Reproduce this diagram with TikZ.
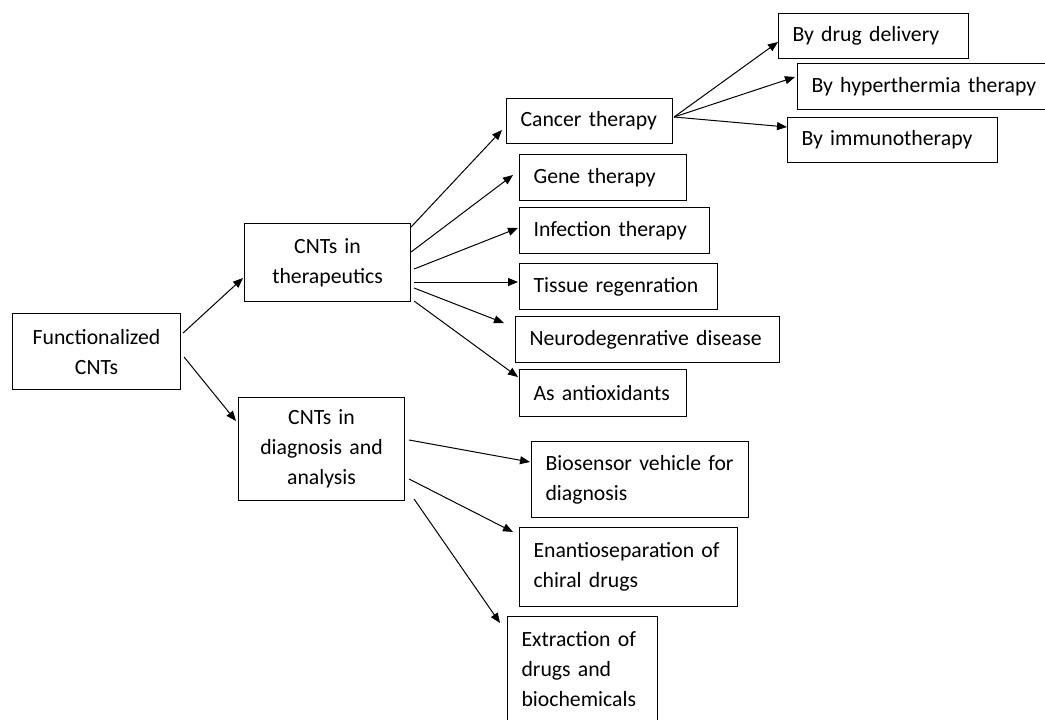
\documentclass[tikz,border=0pt]{standalone}
\usepackage{fontspec}
\setmainfont{Carlito}
\usetikzlibrary{arrows.meta,calc}
\tikzset{
  box/.style={draw=black, line width=0.8pt, inner xsep=10.5pt, inner ysep=1pt,
    font=\fontsize{16.3pt}{22.5pt}\selectfont, text=black},
  conn/.style={draw=black, line width=0.75pt, -{Triangle[length=7.5pt,width=6pt]}}
}
\newcommand\mybox[7]{%
  \pgfmathsetmacro\bw{(#4-#2)*0.75}%
  \pgfmathsetmacro\bh{(#5-#3)*0.75}%
  \pgfmathsetmacro\tw{(#4-#2-28)*0.75}%
  \node[box, anchor=north west, minimum width=\bw pt, minimum height=\bh pt,
        text width=\tw pt, align=#6] (#1) at (#2,#3) {#7};}
\begin{document}
\begin{tikzpicture}[x=0.75pt, y=-0.75pt]
\useasboundingbox (0,0) rectangle (1045,719);
% boxes
\mybox{func}{12}{313}{180}{389}{center}{\mbox{Functionalized}\\CNTs}
\mybox{ther}{244}{223}{410}{301}{center}{\mbox{CNTs in}\\therapeutics}
\mybox{diag}{238}{397}{404}{500}{center}{\mbox{CNTs in}\\\mbox{diagnosis and}\\analysis}
\mybox{cancer}{506}{98}{672}{143}{left}{\mbox{Cancer therapy}}
\mybox{drug}{778}{13}{968}{58}{left}{\mbox{By drug delivery}}
\mybox{hyper}{797}{63}{1050}{109}{left}{\mbox{By hyperthermia therapy}}
\mybox{immuno}{787}{117}{997}{162}{left}{\mbox{By immunotherapy}}
\mybox{gene}{519}{154}{686}{200}{left}{\mbox{Gene therapy}}
\mybox{infect}{519}{207}{709}{253}{left}{\mbox{Infection therapy}}
\mybox{tissue}{519}{263}{717}{309}{left}{\mbox{Tissue regenration}}
\mybox{neuro}{515}{316}{779}{362}{left}{\mbox{Neurodegenrative disease}}
\mybox{anti}{519}{369}{686}{416}{left}{\mbox{As antioxidants}}
\mybox{bio}{531}{441}{748}{517}{left}{\mbox{Biosensor vehicle for}\\diagnosis}
\mybox{enant}{519}{527}{737}{606}{left}{\mbox{Enantioseparation of}\\\mbox{chiral drugs}}
\mybox{extr}{507}{616}{657}{722}{left}{\mbox{Extraction of}\\\mbox{drugs and}\\biochemicals}
% connectors
\draw[conn] ($(func.north east)+(2,20)$) -- ($(ther.north west)+(-1,55)$);
\draw[conn] ($(func.north east)+(3,44)$) -- ($(diag.north west)+(-2,24)$);
\draw[conn] ($(ther.north east)+(0,4)$) -- ($(cancer.north west)+(-4,32)$);
\draw[conn] ($(ther.north east)+(0,29)$) -- ($(gene.north west)+(-6,21)$);
\draw[conn] ($(ther.north east)+(3,46)$) -- ($(infect.north west)+(-1,21)$);
\draw[conn] ($(ther.north east)+(3,59)$) -- ($(tissue.north west)+(-1,19)$);
\draw[conn] ($(ther.north east)+(3,65)$) -- ($(neuro.north west)+(-11,7)$);
\draw[conn] ($(ther.north east)+(3,78)$) -- ($(anti.north west)+(-1,8)$);
\draw[conn] ($(cancer.north east)+(1,19)$) -- ($(drug.north west)+(0,29)$);
\draw[conn] ($(cancer.north east)+(1,19)$) -- ($(hyper.north west)+(-2,14)$);
\draw[conn] ($(cancer.north east)+(1,19)$) -- ($(immuno.north west)+(0,10)$);
\draw[conn] ($(diag.north east)+(4,43)$) -- ($(bio.north west)+(-1,21)$);
\draw[conn] ($(diag.north east)+(4,82)$) -- ($(enant.north west)+(-6,5)$);
\draw[conn] ($(diag.north east)+(9,102)$) -- ($(extr.north west)+(-7,7)$);
\end{tikzpicture}
\end{document}
